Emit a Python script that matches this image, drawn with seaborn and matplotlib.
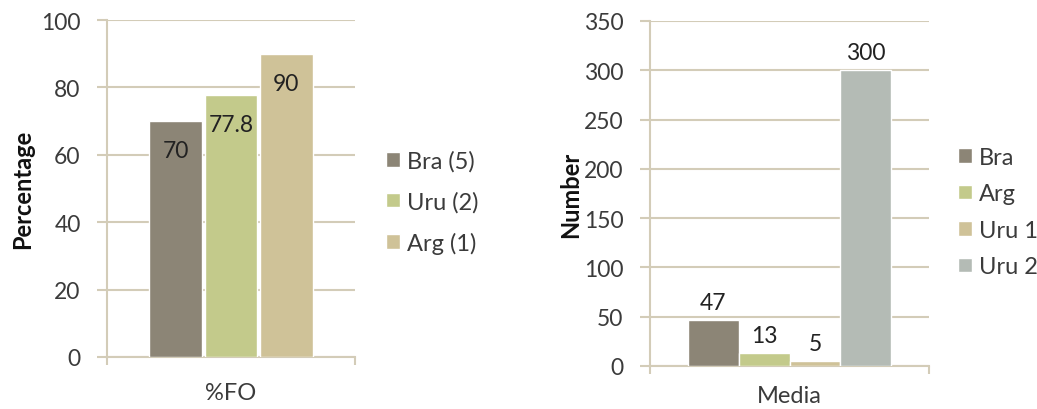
import pandas as pd
import matplotlib.pyplot as plt
import seaborn as sns

# left chart: %FO by country
fo_group = '%FO'
fo_labels = ['Bra (5)', 'Uru (2)', 'Arg (1)']
fo_values = [70, 77.8, 90]
fo_colors = ['#8c8576', '#c3ca8b', '#cfc298']

# right chart: media
med_group = 'Media'
med_labels = ['Bra', 'Arg', 'Uru 1', 'Uru 2']
med_values = [47, 13, 5, 300]
med_colors = ['#8c8576', '#c3ca8b', '#cfc298', '#b4bbb5']

sns.set_style('white')
plt.rcParams['font.family'] = ['Lato', 'DejaVu Sans']
txt = '#3b3b3b'
grid = '#d3ccb8'

W, H = 1037, 410
fig = plt.figure(figsize=(W / 100, H / 100), dpi=100)
ax1 = fig.add_axes([107 / W, (H - 358) / H, 248 / W, 337 / H])
ax2 = fig.add_axes([650 / W, (H - 367) / H, 279 / W, 345 / H])

df1 = pd.DataFrame({'g': [fo_group] * 3, 'c': fo_labels, 'v': fo_values})
df2 = pd.DataFrame({'g': [med_group] * 4, 'c': med_labels, 'v': med_values})

sns.barplot(data=df1, x='g', y='v', hue='c', palette=fo_colors, saturation=1,
            width=0.67, gap=0.05, ax=ax1, zorder=3)
sns.barplot(data=df2, x='g', y='v', hue='c', palette=med_colors, saturation=1,
            width=0.73, ax=ax2, zorder=3)

for c in ax1.containers:
    ax1.bar_label(c, fmt='%g', padding=-29, fontsize=16.5, color='#222222')
for c in ax2.containers:
    ax2.bar_label(c, fmt='%g', padding=5, fontsize=16.5, color='#222222')


def style(ax, top, step, ylab, lpad, xpad, bbox, spacing):
    ax.set_ylim(0, top)
    ax.set_xlim(-0.5, 0.5)
    ax.set_yticks(range(0, top + 1, step))
    ax.yaxis.grid(True, color=grid, linewidth=1.5, zorder=0)
    for s in ['top', 'right']:
        ax.spines[s].set_visible(False)
    for s in ['left', 'bottom']:
        ax.spines[s].set_color(grid)
        ax.spines[s].set_linewidth(1.5)
    ax.tick_params(axis='y', length=7, width=1.5, color=grid, labelsize=16.5,
                   labelcolor=txt, pad=12, left=True)
    ax.tick_params(axis='x', length=0, labelsize=17, labelcolor=txt, pad=xpad)
    ax.set_xticks([-0.5, 0.5], minor=True)
    ax.tick_params(axis='x', which='minor', length=6, width=1.5, color=grid, bottom=True)
    ax.set_xlabel('')
    ax.set_ylabel(ylab, fontsize=17, fontweight='bold', color='#111111', labelpad=lpad)
    handles, labels = ax.get_legend_handles_labels()
    ax.legend(handles, labels, frameon=False, loc='center left', bbox_to_anchor=bbox,
              bbox_transform=fig.transFigure, fontsize=17, labelcolor=txt,
              handlelength=0.58, handleheight=0.58, handletextpad=0.3,
              labelspacing=spacing, borderpad=0, borderaxespad=0)


style(ax1, 100, 20, 'Percentage', 5, 18, (386 / W, (H - 203) / H), 0.82)
style(ax2, 350, 50, 'Number', 1, 14, (958 / W, (H - 213) / H), 0.66)

fig.savefig('out.png', dpi=100, facecolor='white')
